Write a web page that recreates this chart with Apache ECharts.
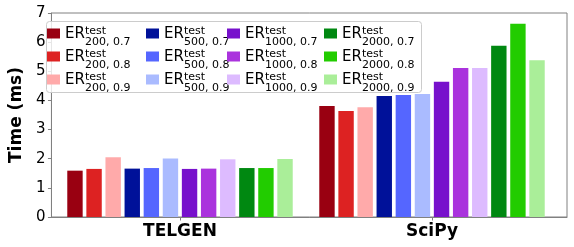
<!DOCTYPE html>
<html><head><meta charset="utf-8">
<script src="https://cdn.jsdelivr.net/npm/echarts@6/dist/echarts.min.js"></script>
<style>html,body{margin:0;padding:0;background:#fff}#c{width:574px;height:247px}</style>
</head><body><div id="c"></div>
<script>
const categories = ['TELGEN', 'SciPy'];
const yTicks = [0, 1, 2, 3, 4, 5, 6, 7];
const sizes = ['200', '500', '1000', '2000'];
const probs = ['0.7', '0.8', '0.9'];
const er200_07 = [1.59, 3.81];
const er200_08 = [1.65, 3.64];
const er200_09 = [2.05, 3.77];
const er500_07 = [1.66, 4.15];
const er500_08 = [1.68, 4.19];
const er500_09 = [2.01, 4.22];
const er1000_07 = [1.65, 4.64];
const er1000_08 = [1.66, 5.11];
const er1000_09 = [1.98, 5.11];
const er2000_07 = [1.68, 5.88];
const er2000_08 = [1.68, 6.63];
const er2000_09 = [1.99, 5.38];
const seriesValues = [
  [er200_07, er200_08, er200_09],
  [er500_07, er500_08, er500_09],
  [er1000_07, er1000_08, er1000_09],
  [er2000_07, er2000_08, er2000_09]
];
const colors = [
  ['#990011', '#dd2222', '#ffaaaa'],
  ['#001199', '#5566ff', '#aabbff'],
  ['#7711cc', '#aa33dd', '#ddbbff'],
  ['#008811', '#22cc00', '#aaee99']
];

const FONT = 'DejaVu Sans';
const series = [];
sizes.forEach((s, i) => {
  probs.forEach((p, j) => {
    series.push({
      type: 'bar', name: s + ', ' + p,
      xAxisIndex: 1, yAxisIndex: 1,
      data: seriesValues[i][j],
      barWidth: 15.4, barGap: '24%',
      itemStyle: { color: colors[i][j] },
      z: 3
    });
  });
});

const rich = {
  pad: { width: 20, lineHeight: 10 },
  sup: { fontFamily: FONT, fontSize: 11, lineHeight: 10, padding: [6, 0, 0, 0], color: '#000' },
  er: { fontFamily: FONT, fontSize: 15, lineHeight: 10, padding: [0, 0, 8, 0], color: '#000' },
  sub: { fontFamily: FONT, fontSize: 11, lineHeight: 10, padding: [8, 0, 0, 0], color: '#000' }
};
const legendLefts = [47, 146, 227, 324];
const legends = [];
sizes.forEach((s, i) => {
  probs.forEach((p, j) => {
    legends.push({
      orient: 'vertical',
      left: legendLefts[i], top: 20 + 23 * j,
      padding: 0,
      itemWidth: 13, itemHeight: 10,
      icon: 'rect',
      selectedMode: false,
      z: 10,
      data: [s + ', ' + p],
      formatter: n => '{pad|}{sup|test}\n{er|ER}{sub|' + n + '}',
      textStyle: { rich: rich, fontFamily: FONT }
    });
  });
});

const chart = echarts.init(document.getElementById('c'), null, { renderer: 'canvas' });
chart.setOption({
  animation: false,
  backgroundColor: '#fff',
  textStyle: { fontFamily: FONT },
  grid: [
    { left: 42, right: 7, top: 13, bottom: 30, show: true, borderColor: '#808080', borderWidth: 1, backgroundColor: 'transparent' },
    { left: 54, right: 16, top: 13, bottom: 30 }
  ],
  graphic: [{
    type: 'rect', left: 46, top: 21, z: 5,
    shape: { width: 375, height: 71, r: 3 },
    style: { fill: 'rgba(255,255,255,0.8)', stroke: '#cccccc', lineWidth: 1 }
  }],
  legend: legends,
  xAxis: [
    { gridIndex: 0, type: 'value', min: 0, max: 1,
      axisLine: { show: true, lineStyle: { color: '#808080', width: 1 } },
      axisTick: { show: false }, axisLabel: { show: false }, splitLine: { show: false } },
    { gridIndex: 1, type: 'category', data: categories,
      axisLine: { show: false },
      axisTick: { show: true, alignWithLabel: true, length: 3.5, lineStyle: { color: '#808080' } },
      axisLabel: { fontFamily: FONT, fontSize: 17, fontWeight: 'bold', color: '#000', margin: 6 },
      splitLine: { show: false } }
  ],
  yAxis: [
    { gridIndex: 0, type: 'value', min: yTicks[0], max: yTicks[yTicks.length - 1], interval: 1,
      name: 'Time (ms)', nameLocation: 'middle', nameGap: 23, nameRotate: 90,
      nameTextStyle: { fontFamily: FONT, fontSize: 17, fontWeight: 'bold', color: '#000' },
      axisLine: { show: true, lineStyle: { color: '#808080', width: 1 } },
      axisTick: { show: true, length: 3.5, lineStyle: { color: '#808080' } },
      axisLabel: { fontFamily: FONT, fontSize: 15, color: '#000', margin: 6 },
      splitLine: { show: false } },
    { gridIndex: 1, type: 'value', min: yTicks[0], max: yTicks[yTicks.length - 1], show: false, splitLine: { show: false } }
  ],
  series: series
});
</script></body></html>
